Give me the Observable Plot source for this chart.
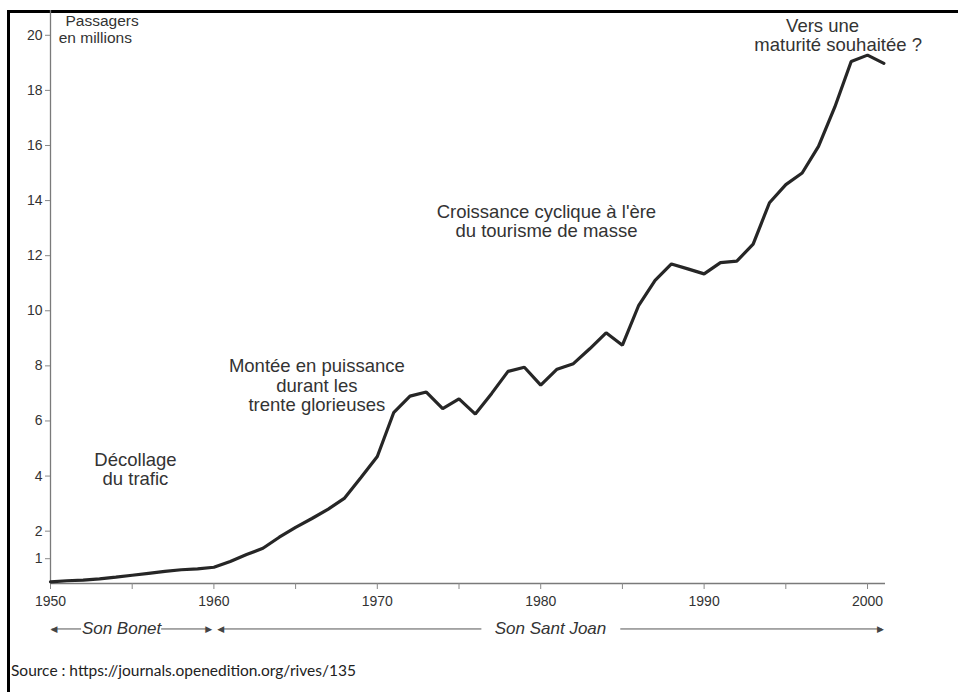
<!DOCTYPE html>
<html><head><meta charset="utf-8">
<script src="https://cdn.jsdelivr.net/npm/d3@7"></script>
<script src="https://cdn.jsdelivr.net/npm/@observablehq/plot@0.6"></script>
<style>
body{margin:0;background:#fff;width:958px;height:692px;overflow:hidden;position:relative;font-family:"Liberation Sans",Arial,sans-serif}
#frame{position:absolute;left:7px;top:10px;width:1000px;height:800px;border:3px solid #000;box-sizing:border-box}
#chart{position:absolute;left:0;top:0}
#source{position:absolute;left:11px;top:661px;font-family:Lato,"Liberation Sans",sans-serif;font-size:15.5px;color:#222}
</style></head><body>
<div id="frame"></div>
<div id="chart"></div>
<div id="source">Source : https://journals.openedition.org/rives/135</div>
<script>
// Data
const years = [1950,1951,1952,1953,1954,1955,1956,1957,1958,1959,
               1960,1961,1962,1963,1964,1965,1966,1967,1968,1969,
               1970,1971,1972,1973,1974,1975,1976,1977,1978,1979,
               1980,1981,1982,1983,1984,1985,1986,1987,1988,1989,
               1990,1991,1992,1993,1994,1995,1996,1997,1998,1999,
               2000,2001];
const passengers = [0.16,0.2,0.22,0.27,0.33,0.4,0.47,0.54,0.6,0.63,
                    0.69,0.9,1.15,1.38,1.78,2.14,2.46,2.8,3.2,3.95,
                    4.71,6.3,6.9,7.05,6.45,6.8,6.25,7.0,7.8,7.95,
                    7.3,7.88,8.08,8.62,9.2,8.75,10.2,11.1,11.7,11.52,
                    11.34,11.75,11.8,12.42,13.92,14.58,15.0,15.97,17.4,19.05,
                    19.28,18.98];
const yTicks = [1,2,4,6,8,10,12,14,16,18,20];
const xTicks = [1950,1955,1960,1965,1970,1975,1980,1985,1990,1995,2000];
const xLabels = [1950,1960,1970,1980,1990,2000];
const phaseLabels = ["Décollage\ndu trafic", "Montée en puissance\ndurant les\ntrente glorieuses",
                     "Croissance cyclique à l'ère\ndu tourisme de masse"];
const unitLabel = ["Passagers", "en millions"];
const futureLabel = ["Vers une", "maturité souhaitée ?"];
const airports = ["Son Bonet", "Son Sant Joan"];
const airportStart = [1950, 1960];
const airportEnd = [1960, 2001];

const data = years.map((y, i) => ({year: y, value: passengers[i]}));
const FONT = "Liberation Sans, Arial, sans-serif";
const INK = "#333";
const ARROW_Y = -1.55;

const segs = [
  {x1: airportStart[0] + 0.1, x2: 1951.9},
  {x1: 1956.8, x2: airportEnd[0] - 0.3},
  {x1: airportStart[1] + 0.4, x2: 1976.4},
  {x1: 1984.9, x2: airportEnd[1] - 0.1}
];

const chart = Plot.plot({
  width: 958,
  height: 650,
  marginLeft: 50,
  marginRight: 73,
  marginTop: 10,
  marginBottom: 67,
  x: {domain: [1950, 2001.1]},
  y: {domain: [0.1, 20.9]},
  style: {fontFamily: FONT, background: "transparent", overflow: "visible"},
  marks: [
    Plot.ruleX([1950], {stroke: "#7a7a7a", strokeWidth: 1.3}),
    Plot.ruleY([0.1], {stroke: "#7a7a7a", strokeWidth: 1.3}),
    Plot.axisY({ticks: yTicks, tickSize: 5, tickPadding: 3, fontSize: 14, stroke: "#888", fill: INK, label: null, tickFormat: d => String(d)}),
    Plot.axisX({ticks: xTicks, tickSize: 6, tickPadding: 7, fontSize: 14, stroke: "#888", fill: INK, label: null,
                tickFormat: d => xLabels.includes(d) ? String(d) : ""}),
    Plot.line(data, {x: "year", y: "value", stroke: "#262626", strokeWidth: 3.2, strokeLinejoin: "miter"}),
    // annotations
    Plot.text([phaseLabels[0]], {x: 1955.2, y: 4.24, text: d => d, fontSize: 18.5, lineHeight: 1.05, fill: INK}),
    Plot.text([phaseLabels[1]], {x: 1966.3, y: 7.29, text: d => d, fontSize: 18.5, lineHeight: 1.05, fill: INK}),
    Plot.text([phaseLabels[2]], {x: 1980.35, y: 13.24, text: d => d, fontSize: 18.5, lineHeight: 1.02, fill: INK}),
    Plot.text([unitLabel[0]], {x: 1950.92, y: 20.52, text: d => d, fontSize: 15.5, textAnchor: "start", fill: INK}),
    Plot.text([unitLabel[1]], {x: 1950.5, y: 19.9, text: d => d, fontSize: 15.5, textAnchor: "start", fill: INK}),
    Plot.text([futureLabel[0]], {x: 1997.25, y: 20.32, text: d => d, fontSize: 18.5, fill: INK}),
    Plot.text([futureLabel[1]], {x: 1998.2, y: 19.63, text: d => d, fontSize: 18.5, fill: INK}),
    // airport periods
    Plot.ruleY(segs, {x1: "x1", x2: "x2", y: ARROW_Y, stroke: "#555", strokeWidth: 1}),
    Plot.text([airports[0]], {x: 1954.35, y: ARROW_Y, text: d => d, fontSize: 17, fontStyle: "italic", fill: INK}),
    Plot.text([airports[1]], {x: 1980.6, y: ARROW_Y, text: d => d, fontSize: 17, fontStyle: "italic", fill: INK}),
    Plot.text([airportStart[0], airportStart[1] + 0.2], {x: d => d, y: ARROW_Y, text: () => "◀", fontSize: 9, textAnchor: "start", fill: "#444", fontFamily: "DejaVu Sans"}),
    Plot.text([airportEnd[0] - 0.1, airportEnd[1]], {x: d => d, y: ARROW_Y, text: () => "▶", fontSize: 9, textAnchor: "end", fill: "#444", fontFamily: "DejaVu Sans"})
  ]
});
document.getElementById("chart").appendChild(chart);
</script>
</body></html>
